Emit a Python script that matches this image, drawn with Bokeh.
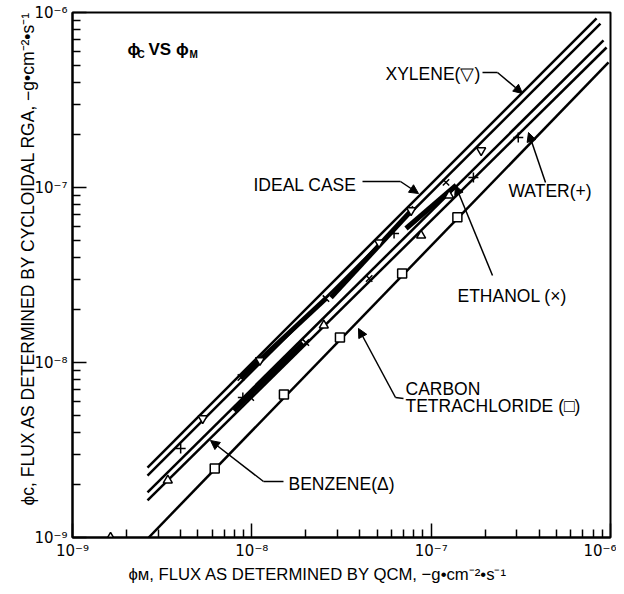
from bokeh.plotting import figure
from bokeh.models import FixedTicker, Label, Arrow, NormalHead, Title
from bokeh.embed import file_html
from bokeh.resources import INLINE

# ---- axis ticks ----
decades = [1e-9, 1e-8, 1e-7, 1e-6]
tick_labels = ["10⁻⁹", "10⁻⁸", "10⁻⁷", "10⁻⁶"]
minor_mult = [2, 3, 4, 5, 6, 7, 8, 9]

# ---- fitted lines (start / end points) ----
line_names = ["ideal", "xylene", "ethanol", "benzene", "ccl4"]
line_x0 = [2.62e-9, 2.62e-9, 2.62e-9, 2.62e-9, 2.66e-9]
line_y0 = [2.51e-9, 2.26e-9, 1.81e-9, 1.63e-9, 1.00e-9]
line_x1 = [8.36e-7, 8.79e-7, 9.14e-7, 9.51e-7, 9.75e-7]
line_y1 = [9.25e-7, 8.65e-7, 6.92e-7, 6.31e-7, 5.18e-7]

# ---- data points ----
xylene_x = [5.32e-9, 1.11e-8, 5.12e-8, 7.73e-8, 1.90e-7]
xylene_y = [4.79e-9, 1.03e-8, 4.85e-8, 7.40e-8, 1.63e-7]

ethanol_x = [8.69e-9, 9.86e-9, 2.00e-8, 2.59e-8, 4.51e-8, 1.21e-7]
ethanol_y = [8.20e-9, 6.31e-9, 1.30e-8, 2.32e-8, 3.02e-8, 1.07e-7]

water_x = [4.01e-9, 8.91e-9, 6.21e-8, 1.72e-7, 3.06e-7]
water_y = [3.23e-9, 6.31e-9, 5.46e-8, 1.14e-7, 1.93e-7]

benzene_x = [1.63e-9, 3.40e-9, 2.52e-8, 8.79e-8, 1.26e-7]
benzene_y = [1.00e-9, 2.12e-9, 1.63e-8, 5.32e-8, 9.00e-8]

ccl4_x = [6.21e-9, 1.51e-8, 3.10e-8, 6.89e-8, 1.40e-7]
ccl4_y = [2.48e-9, 6.56e-9, 1.39e-8, 3.23e-8, 6.75e-8]

# heavy (overlapping data) stretches
thick_x0 = [8.69e-9, 7.92e-9, 2.76e-8, 7.24e-8]
thick_y0 = [8.20e-9, 5.32e-9, 2.35e-8, 5.83e-8]
thick_x1 = [2.59e-8, 1.93e-8, 8.04e-8, 1.38e-7]
thick_y1 = [2.32e-8, 1.29e-8, 7.69e-8, 1.03e-7]

x_title = "ϕᴍ, FLUX AS DETERMINED BY QCM, −g•cm⁻²•s⁻¹"
y_title = "ϕᴄ, FLUX AS DETERMINED BY CYCLOIDAL RGA, −g•cm⁻²•s⁻¹"

FONT = "Liberation Sans"

p = figure(width=616, height=586, x_axis_type="log", y_axis_type="log",
           x_range=(1e-9, 1e-6), y_range=(1e-9, 1e-6),
           output_backend="svg", toolbar_location=None,
           min_border_left=72, min_border_right=6, min_border_top=12, min_border_bottom=49)
p.grid.visible = False
p.outline_line_color = "black"
p.outline_line_width = 2
p.background_fill_color = "white"
p.border_fill_color = "white"

minors = [m * d for d in decades[:-1] for m in minor_mult]
for ax in (p.xaxis[0], p.yaxis[0]):
    ax.ticker = FixedTicker(ticks=decades, minor_ticks=minors)
    ax.major_label_overrides = {d: t for d, t in zip(decades, tick_labels)}
    ax.axis_line_width = 2
    ax.axis_line_color = "black"
    ax.major_tick_in = 14
    ax.major_tick_out = 0
    ax.minor_tick_in = 8
    ax.minor_tick_out = 0
    ax.major_tick_line_width = 1.5
    ax.minor_tick_line_width = 1.5
    ax.major_label_text_font = "DejaVu Sans"
    ax.major_label_text_font_size = "15px"
    ax.major_label_text_color = "black"
p.xaxis.major_label_standoff = 4
p.yaxis.major_label_standoff = 5

p.add_layout(Title(text=x_title, align="left", offset=56, standoff=0,
                   text_font=FONT, text_font_size="16.7px", text_font_style="normal",
                   text_color="black"), "below")
p.add_layout(Title(text=y_title, align="left", offset=32, standoff=-12,
                   text_font=FONT, text_font_size="17.5px", text_font_style="normal",
                   text_color="black"), "left")

p.segment(x0=line_x0, y0=line_y0, x1=line_x1, y1=line_y1, line_color="black", line_width=2.5)
p.segment(x0=thick_x0, y0=thick_y0, x1=thick_x1, y1=thick_y1, line_color="black", line_width=5)

mk = dict(size=9, line_color="black", fill_color="white", line_width=1.5)
p.scatter(xylene_x, xylene_y, marker="inverted_triangle", **mk)
p.scatter(benzene_x, benzene_y, marker="triangle", **mk)
p.scatter(ccl4_x, ccl4_y, marker="square", **mk)
p.scatter(ethanol_x, ethanol_y, marker="x", size=9, line_color="black", line_width=1.5)
p.scatter(water_x, water_y, marker="cross", size=10, line_color="black", line_width=1.5)


def lab(x, y, text, size=17.5, style="normal", **kw):
    p.add_layout(Label(x=x, y=y, x_units="screen", y_units="screen", text=text,
                       text_font=FONT, text_font_size=f"{size}px", text_font_style=style,
                       text_baseline="middle", text_color="black", **kw))


def arr(x0, y0, x1, y1, head=True):
    p.add_layout(Arrow(x_start=x0, y_start=y0, x_end=x1, y_end=y1,
                       start_units="screen", end_units="screen",
                       end=NormalHead(size=9, fill_color="black", line_color="black") if head else None,
                       line_color="black", line_width=1.5))


# title
lab(55, 488, "ϕ", 17, "bold")
lab(65, 483, "C", 10, "bold")
lab(76, 488, "VS ϕ", 17, "bold")
lab(117, 483, "M", 10, "bold")

# series labels
lab(313, 464, "XYLENE(▽)")
arr(410, 465, 425, 465, False)
arr(425, 465, 450, 444)

lab(181, 353, "IDEAL CASE")
arr(290, 356, 328, 356, False)
arr(328, 356, 346, 344)

lab(436, 347, "WATER(+)")
arr(473, 355, 456, 405)

lab(385, 242, "ETHANOL (×)")
arr(420, 262, 383, 352)

lab(333, 149, "CARBON")
lab(333, 132, "TETRACHLORIDE (□)")
arr(331, 139, 323, 140, False)
arr(323, 140, 286, 209)

lab(216, 54, "BENZENE(Δ)")
arr(211, 56, 191, 56, False)
arr(191, 56, 138, 97)

open("out.html", "w").write(file_html(p, INLINE))
